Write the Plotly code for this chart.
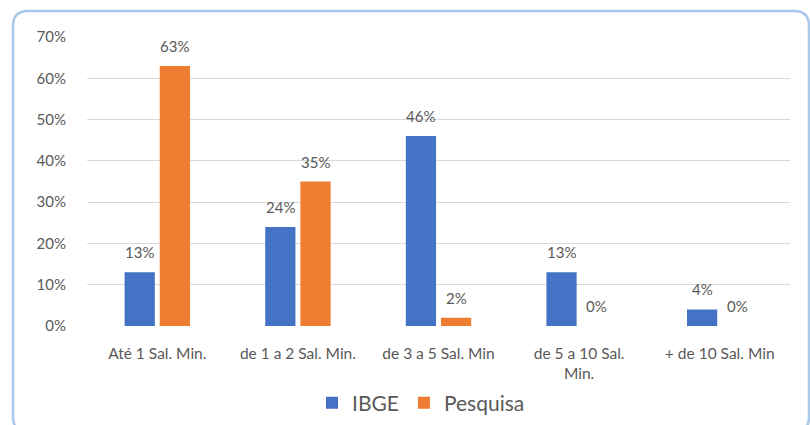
import plotly.graph_objects as go

categories = ["Até 1 Sal. Min.", "de 1 a 2 Sal. Min.", "de 3 a 5 Sal. Min",
              "de 5 a 10 Sal.<br>Min.", "+ de 10 Sal. Min"]
ibge = [0.13, 0.24, 0.46, 0.13, 0.04]
pesquisa = [0.63, 0.35, 0.02, 0.00, 0.00]
series_names = ["IBGE", "Pesquisa"]
y_ticks = [0, 0.1, 0.2, 0.3, 0.4, 0.5, 0.6, 0.7]
y_tick_labels = ["0%", "10%", "20%", "30%", "40%", "50%", "60%", "70%"]

W, H = 810, 425
L, R, T, B = 87, 20, 37, 99
PW, PH = W - L - R, H - T - B
FONT = "Lato"
GRAY = "#595959"
colors = ["#4472C4", "#ED7D31"]

BARGAP = 0.5
BARGROUPGAP = 0.14

fig = go.Figure()
for name, vals, col in zip(series_names, [ibge, pesquisa], colors):
    fig.add_trace(go.Bar(x=categories, y=vals, name=name, marker_color=col,
                         marker_line_width=0))

# data labels via annotations
cat_w = PW / len(categories)
slot = cat_w * (1 - BARGAP) / 2
offsets = [-slot / 2, slot / 2]
annotations = []
for vals, off in zip([ibge, pesquisa], offsets):
    for c, v in zip(categories, vals):
        annotations.append(dict(x=c, y=v, xref="x", yref="y", text=f"{round(v*100)}%",
                                showarrow=False, xshift=off, yshift=20,
                                font=dict(family=FONT, size=15, color=GRAY),
                                xanchor="center", yanchor="middle"))

def px(xp):
    return (xp - L) / PW

def py(yp):
    return (H - B - yp) / PH

# rounded border
x0, x1, y0, y1, r = 13, 809, 11, 432, 15
path = (f"M {px(x0+r)},{py(y0)} L {px(x1-r)},{py(y0)} Q {px(x1)},{py(y0)} {px(x1)},{py(y0+r)} "
        f"L {px(x1)},{py(y1-r)} Q {px(x1)},{py(y1)} {px(x1-r)},{py(y1)} "
        f"L {px(x0+r)},{py(y1)} Q {px(x0)},{py(y1)} {px(x0)},{py(y1-r)} "
        f"L {px(x0)},{py(y0+r)} Q {px(x0)},{py(y0)} {px(x0+r)},{py(y0)} Z")

fig.update_layout(
    width=W, height=H,
    margin=dict(l=L, r=R, t=T, b=B, autoexpand=False),
    paper_bgcolor="white", plot_bgcolor="white",
    barmode="group", bargap=BARGAP, bargroupgap=BARGROUPGAP,
    font=dict(family=FONT, size=15, color=GRAY),
    showlegend=True,
    legend=dict(orientation="h", x=px(421), xanchor="center", y=py(403), yanchor="middle",
                font=dict(family=FONT, size=21, color=GRAY), itemwidth=30,
                traceorder="normal"),
    annotations=annotations,
    shapes=[dict(type="path", path=path, xref="paper", yref="paper",
                 line=dict(color="#A9C8EA", width=2.5), layer="above")],
    xaxis=dict(showgrid=False, showline=False, zeroline=False, ticks="",
               tickfont=dict(family=FONT, size=15.5, color=GRAY), ticklabelstandoff=16),
    yaxis=dict(range=[0, 0.7], tickvals=y_ticks, ticktext=y_tick_labels,
               showgrid=True, gridcolor="#D9D9D9", gridwidth=1, zeroline=False,
               showline=False, ticks="", tickfont=dict(family=FONT, size=15, color=GRAY),
               ticklabelstandoff=20),
)

fig.write_html("out.html", config={"displayModeBar": False},
               post_script="document.body.style.margin='0px';document.body.style.overflow='hidden';")
